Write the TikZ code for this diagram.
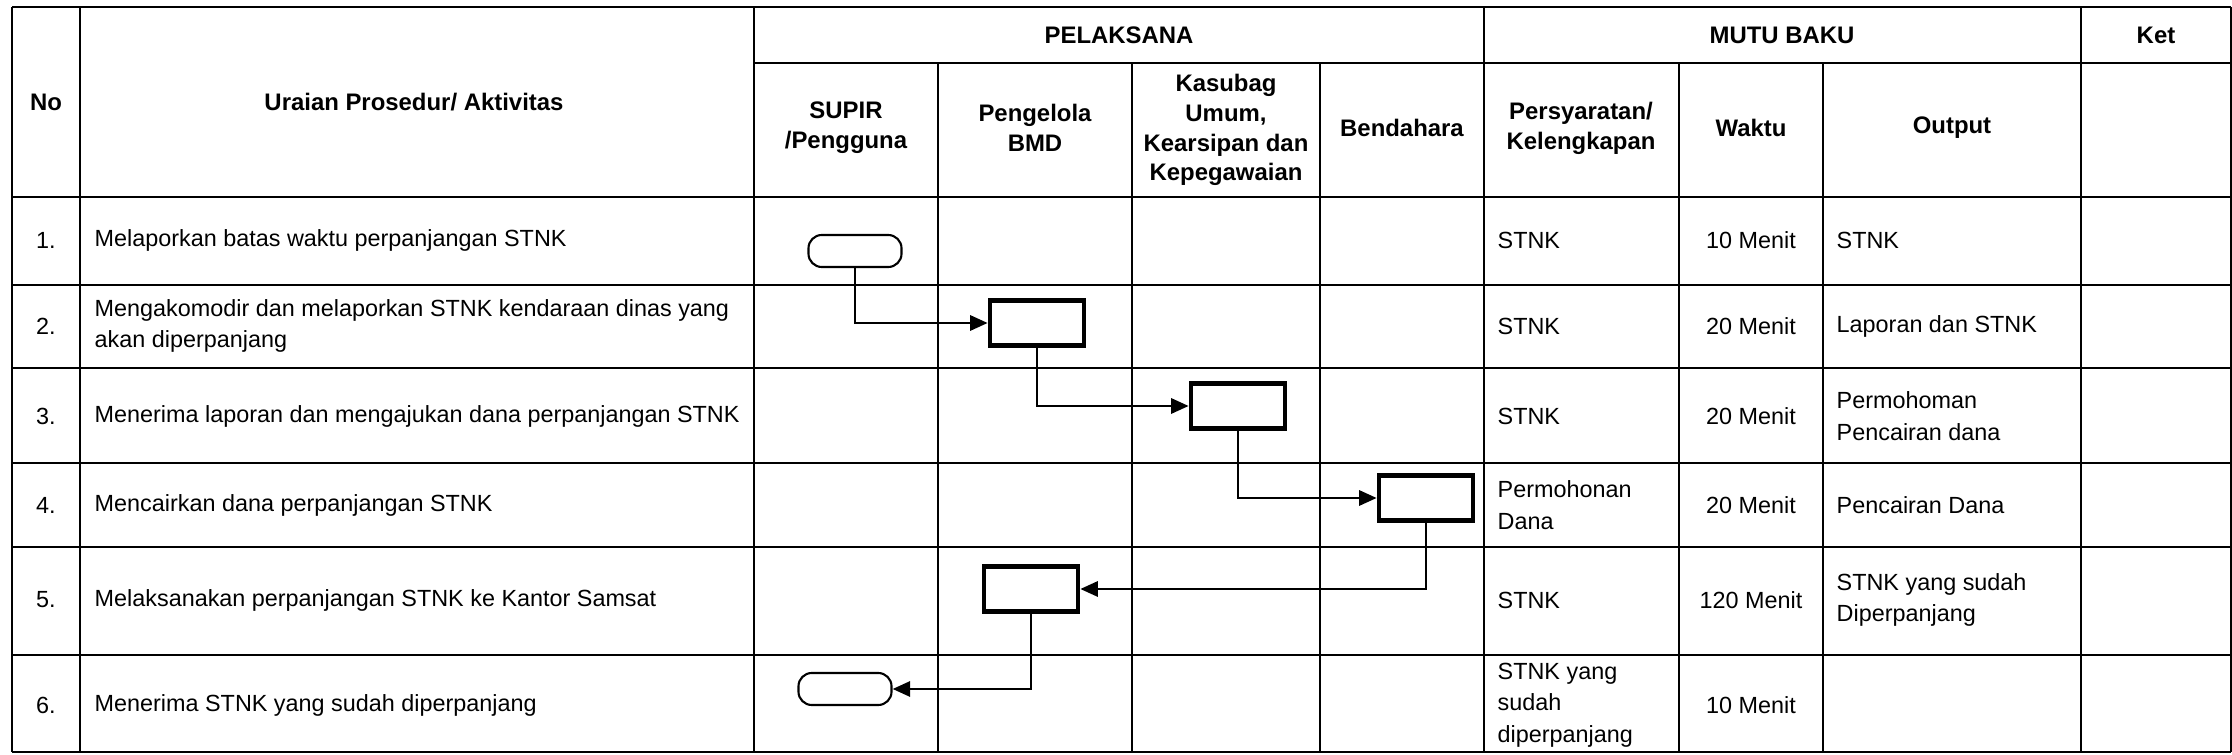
\documentclass[tikz,border=0pt]{standalone}
\usepackage{fontspec}
\setmainfont{Liberation Sans}
\usetikzlibrary{arrows.meta,positioning}

\begin{document}
\begin{tikzpicture}[x=0.01cm,y=-0.01cm,>={Triangle[length=5pt,width=4.3pt]},
  rule/.style={line width=0.6pt},
  hd/.style={font=\fontsize{6.8}{8.5}\selectfont\bfseries,align=center,inner sep=0pt},
  txt/.style={font=\fontsize{6.65}{9}\selectfont,align=left,anchor=west,inner sep=0pt},
  mid/.style={font=\fontsize{6.65}{9}\selectfont,align=center,inner sep=0pt},
  act/.style={draw,line width=1.3pt,minimum width=0.94cm,minimum height=0.45cm,inner sep=0pt},
  term/.style={draw,line width=0.6pt,rounded corners=3.8pt,minimum width=0.93cm,minimum height=0.32cm,inner sep=0pt},
  flow/.style={->,line width=0.8pt}]
\useasboundingbox (0,0) rectangle (2232,755);
% table rules
\foreach \x in {12,80,754,1484,2081,2231} \draw[rule] (\x,7) -- (\x,752);
\foreach \x in {938,1132,1320,1679,1823} \draw[rule] (\x,63) -- (\x,752);
\foreach \y in {7,197,285,368,463,547,655,752} \draw[rule] (12,\y) -- (2231,\y);
\draw[rule] (754,63) -- (2231,63);
% header
\node[hd] (no) at (46,102) {No};
\node[hd] (uraian) at (414,102) {Uraian Prosedur/ Aktivitas};
\node[hd] (pelaksana) at (1119,35) {PELAKSANA};
\node[hd] (mutu) at (1782,35) {MUTU BAKU};
\node[hd] (ket) at (2156,35) {Ket};
\node[hd] (supir) at (846,128) {SUPIR\\/Pengguna};
\node[hd] (bmd) at (1035,128) {Pengelola\\BMD};
\node[hd] (kasubag) at (1226,130) {Kasubag\\Umum,\\Kearsipan dan\\Kepegawaian};
\node[hd] (bendahara) at (1402,128) {Bendahara};
\node[hd] (syarat) at (1581,128) {Persyaratan/\\Kelengkapan};
\node[hd] (waktu) at (1751,128) {Waktu};
\node[hd] (output) at (1952,128) {Output};
% rows
\node[mid] (n1) at (46,240) {1.};
\node[txt] (u1) at (94,240) {Melaporkan batas waktu perpanjangan STNK};
\node[txt] (s1) at (1497,240) {STNK};
\node[mid] (w1) at (1751,240) {10 Menit};
\node[txt] (o1) at (1836,240) {STNK};
\node[mid] (n2) at (46,326) {2.};
\node[txt] (u2) at (94,326) {Mengakomodir dan melaporkan STNK kendaraan dinas yang\\akan diperpanjang};
\node[txt] (s2) at (1497,326) {STNK};
\node[mid] (w2) at (1751,326) {20 Menit};
\node[txt] (o2) at (1836,326) {Laporan dan STNK};
\node[mid] (n3) at (46,416) {3.};
\node[txt] (u3) at (94,416) {Menerima laporan dan mengajukan dana perpanjangan STNK};
\node[txt] (s3) at (1497,416) {STNK};
\node[mid] (w3) at (1751,416) {20 Menit};
\node[txt] (o3) at (1836,416) {Permohoman\\Pencairan dana};
\node[mid] (n4) at (46,505) {4.};
\node[txt] (u4) at (94,505) {Mencairkan dana perpanjangan STNK};
\node[txt] (s4) at (1497,505) {Permohonan\\Dana};
\node[mid] (w4) at (1751,505) {20 Menit};
\node[txt] (o4) at (1836,505) {Pencairan Dana};
\node[mid] (n5) at (46,600) {5.};
\node[txt] (u5) at (94,600) {Melaksanakan perpanjangan STNK ke Kantor Samsat};
\node[txt] (s5) at (1497,600) {STNK};
\node[mid] (w5) at (1751,600) {120 Menit};
\node[txt] (o5) at (1836,600) {STNK yang sudah\\Diperpanjang};
\node[mid] (n6) at (46,705) {6.};
\node[txt] (u6) at (94,705) {Menerima STNK yang sudah diperpanjang};
\node[txt] (s6) at (1497,705) {STNK yang\\sudah\\diperpanjang};
\node[mid] (w6) at (1751,705) {10 Menit};
% flow
\node[term] (mulai) at (855,251) {};
\node[act] (akomodir) at (1037,323) {};
\node[act] (ajukan) at (1238,406) {};
\node[act] (cairkan) at (1426,498) {};
\node[act] (samsat) at (1031,589) {};
\node[term] (selesai) at (845,689) {};
\draw[flow] (mulai.south) |- (akomodir.west);
\draw[flow] (akomodir.south) |- (ajukan.west);
\draw[flow] (ajukan.south) |- (cairkan.west);
\draw[flow] (cairkan.south) |- (samsat.east);
\draw[flow] (samsat.south) |- (selesai.east);
\end{tikzpicture}
\end{document}
